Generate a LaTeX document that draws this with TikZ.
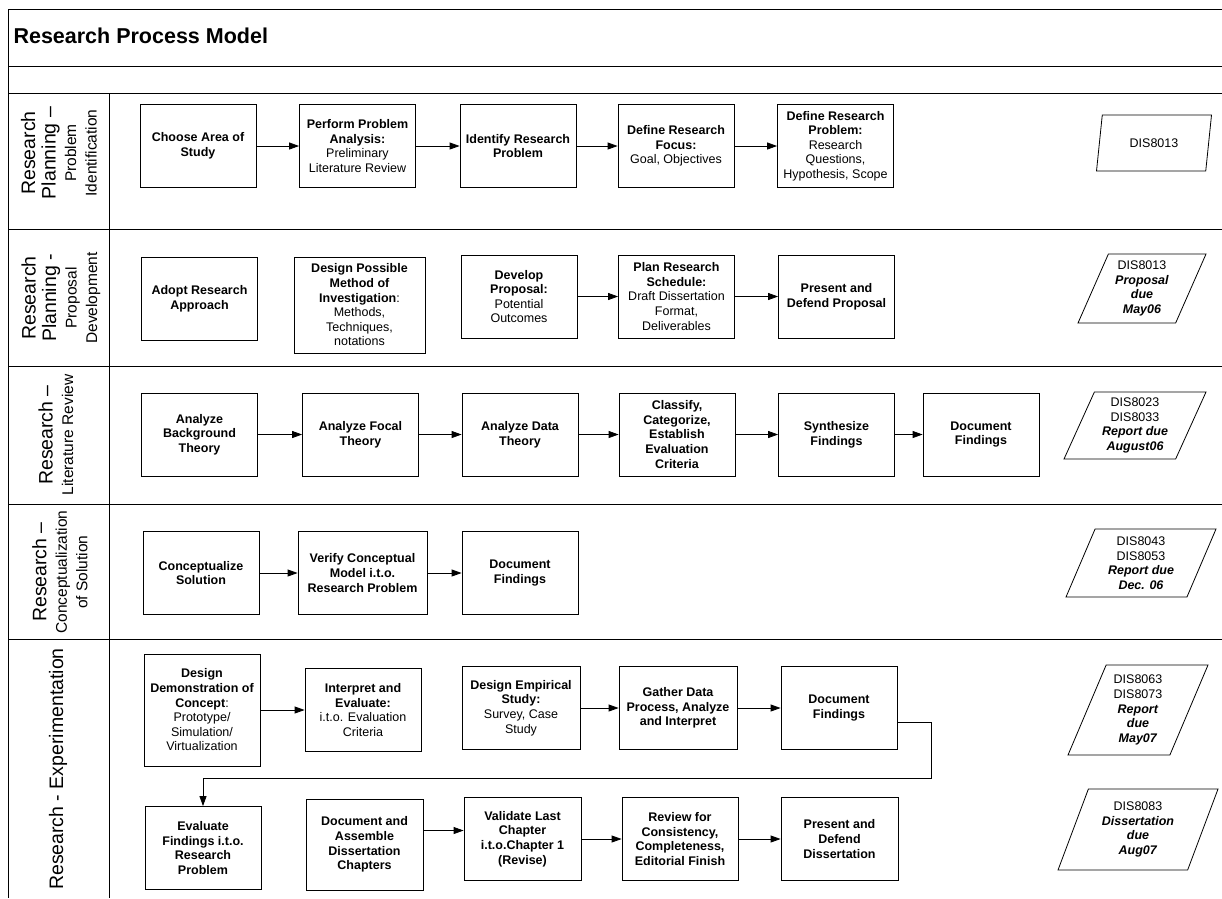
\documentclass[tikz,border=0pt]{standalone}
\usepackage{fontspec}
\setmainfont{Liberation Sans}
\usetikzlibrary{arrows.meta,shapes.geometric}
\newcommand{\lanebig}{\fontsize{19.5}{20.5}\selectfont}
\newcommand{\lanesmall}{\fontsize{15.5}{20.5}\selectfont}
\newcommand{\due}[1]{\textbf{\textit{#1}}}

\begin{document}
\begin{tikzpicture}[x=1pt,y=-1pt]
\tikzset{boxstyle/.style={draw,line width=0.8pt,align=center,inner sep=2pt,minimum width=116pt,minimum height=83pt,font=\fontsize{12.5}{14.6}\selectfont\bfseries}};
\tikzset{duestyle/.style={draw,line width=0.8pt,align=center,trapezium,trapezium left angle=62,trapezium right angle=118,trapezium stretches body,inner sep=1pt,font=\fontsize{12.5}{14.6}\selectfont}};
\tikzset{lanestyle/.style={rotate=90,align=center,font=\lanesmall}};
\tikzset{arrowstyle/.style={-{Triangle[length=10pt,width=7pt]},line width=0.8pt}};
\tikzset{frameline/.style={line width=1pt}};
\useasboundingbox (0,0) rectangle (1222,898);

% frame
\draw[frameline] (8,9) -- (1222,9);
\draw[frameline] (8,66) -- (1222,66);
\draw[frameline] (8,93) -- (1222,93);
\draw[frameline] (8,229) -- (1222,229);
\draw[frameline] (8,366) -- (1222,366);
\draw[frameline] (8,504) -- (1222,504);
\draw[frameline] (8,639) -- (1222,639);
\draw[frameline] (8,9) -- (8,898);
\draw[frameline] (109,93) -- (109,898);

\node[anchor=west,font=\fontsize{21.5}{24}\selectfont\bfseries] (modelTitle) at (10,36) {Research Process Model};

% lane labels
\node[lanestyle] (laneOne) at (59,153) {\lanebig Research\\\lanebig Planning --\\Problem\\Identification};
\node[lanestyle] (laneTwo) at (61,298) {\lanebig Research\\\lanebig Planning -\\Proposal\\Development};
\node[lanestyle] (laneThree) at (56,435) {\lanebig Research --\\Literature Review};
\node[lanestyle] (laneFour) at (60,572) {\lanebig Research --\\Conceptualization\\of Solution};
\node[lanestyle] (laneFive) at (58,769) {\lanebig Research - Experimentation};

% problem identification
\node[boxstyle] (chooseArea) at (198,146) {Choose Area of\\Study};
\node[boxstyle] (performAnalysis) at (357.5,146) {Perform Problem\\Analysis:\\\textmd{Preliminary}\\\textmd{Literature Review}};
\node[boxstyle] (identifyProblem) at (518,146) {Identify Research\\Problem};
\node[boxstyle] (defineFocus) at (676,146) {Define Research\\Focus:\\\textmd{Goal, Objectives}};
\node[boxstyle] (defineProblem) at (835.5,146) {Define Research\\Problem:\\\textmd{Research}\\\textmd{Questions,}\\\textmd{Hypothesis, Scope}};
\node[duestyle,minimum width=115pt,minimum height=56pt] (dueOne) at (1154,143) {DIS8013};

% proposal development
\node[boxstyle] (adoptApproach) at (199.5,299) {Adopt Research\\Approach};
\node[boxstyle,minimum width=131pt,minimum height=96pt] (designMethod) at (359.5,305) {Design Possible\\Method of\\Investigation\textmd{:}\\\textmd{Methods,}\\\textmd{Techniques,}\\\textmd{notations}};
\node[boxstyle] (developProposal) at (519,296.5) {Develop\\Proposal:\\\textmd{Potential}\\\textmd{Outcomes}};
\node[boxstyle] (planSchedule) at (676.5,296.5) {Plan Research\\Schedule:\\\textmd{Draft Dissertation}\\\textmd{Format,}\\\textmd{Deliverables}};
\node[boxstyle] (presentProposal) at (836.5,296.5) {Present and\\Defend Proposal};
\node[duestyle,minimum width=128pt,minimum height=69pt] (dueTwo) at (1142,288.5) {DIS8013\\\due{Proposal}\\\due{due}\\\due{May06}};

% literature review
\node[boxstyle] (backgroundTheory) at (199.5,434.5) {Analyze\\Background\\Theory};
\node[boxstyle] (focalTheory) at (360.5,434.5) {Analyze Focal\\Theory};
\node[boxstyle] (dataTheory) at (520,434.5) {Analyze Data\\Theory};
\node[boxstyle] (classifyCriteria) at (677,434.5) {Classify,\\Categorize,\\Establish\\Evaluation\\Criteria};
\node[boxstyle] (synthesizeFindings) at (836.5,434.5) {Synthesize\\Findings};
\node[boxstyle] (documentReview) at (981,434.5) {Document\\Findings};
\node[duestyle,minimum width=142pt,minimum height=67pt] (dueThree) at (1135,425.5) {DIS8023\\DIS8033\\\due{Report due}\\\due{August06}};

% conceptualization
\node[boxstyle] (conceptualizeSolution) at (201,573) {Conceptualize\\Solution};
\node[boxstyle,minimum width=129pt] (verifyModel) at (362.5,573) {Verify Conceptual\\Model i.t.o.\\Research Problem};
\node[boxstyle] (documentSolution) at (520,573) {Document\\Findings};
\node[duestyle,minimum width=150pt,minimum height=68pt] (dueFour) at (1141,563) {DIS8043\\DIS8053\\\due{Report due}\\\due{Dec. 06}};

% experimentation
\node[boxstyle,minimum height=112pt] (designDemo) at (202,710) {Design\\Demonstration of\\Concept\textmd{:}\\\textmd{Prototype/}\\\textmd{Simulation/}\\\textmd{Virtualization}};
\node[boxstyle] (interpretResults) at (363,710) {Interpret and\\Evaluate:\\\textmd{i.t.o. Evaluation}\\\textmd{Criteria}};
\node[boxstyle,minimum width=118pt] (designStudy) at (521,708) {Design Empirical\\Study:\\\textmd{Survey, Case}\\\textmd{Study}};
\node[boxstyle,minimum width=118pt] (gatherData) at (678,708) {Gather Data\\Process, Analyze\\and Interpret};
\node[boxstyle] (documentExperiment) at (839,708) {Document\\Findings};
\node[duestyle,minimum width=140pt,minimum height=90pt] (dueFive) at (1138,710) {DIS8063\\DIS8073\\\due{Report}\\\due{due}\\\due{May07}};

\node[boxstyle] (evaluateFindings) at (203,848) {Evaluate\\Findings i.t.o.\\Research\\Problem};
\node[boxstyle,minimum width=117pt,minimum height=91pt] (assembleChapters) at (364.5,844.5) {Document and\\Assemble\\Dissertation\\Chapters};
\node[boxstyle,minimum width=117pt] (validateChapter) at (522.5,839) {Validate Last\\Chapter\\i.t.o.Chapter 1\\(Revise)};
\node[boxstyle] (reviewConsistency) at (680,839) {Review for\\Consistency,\\Completeness,\\Editorial Finish};
\node[boxstyle,minimum width=117pt] (presentDissertation) at (839.5,839) {Present and\\Defend\\Dissertation};
\node[duestyle,minimum width=160pt,minimum height=81pt] (dueSix) at (1138,829.5) {DIS8083\\\due{Dissertation}\\\due{due}\\\due{Aug07}};

\path (chooseArea) edge [arrowstyle] (performAnalysis);
\path (performAnalysis) edge [arrowstyle] (identifyProblem);
\path (identifyProblem) edge [arrowstyle] (defineFocus);
\path (defineFocus) edge [arrowstyle] (defineProblem);

\path (developProposal) edge [arrowstyle] (planSchedule);
\path (planSchedule) edge [arrowstyle] (presentProposal);

\path (backgroundTheory) edge [arrowstyle] (focalTheory);
\path (focalTheory) edge [arrowstyle] (dataTheory);
\path (dataTheory) edge [arrowstyle] (classifyCriteria);
\path (classifyCriteria) edge [arrowstyle] (synthesizeFindings);
\path (synthesizeFindings) edge [arrowstyle] (documentReview);

\path (conceptualizeSolution) edge [arrowstyle] (verifyModel);
\path (verifyModel) edge [arrowstyle] (documentSolution);

\path (designDemo) edge [arrowstyle] (interpretResults);
\path (designStudy) edge [arrowstyle] (gatherData);
\path (gatherData) edge [arrowstyle] (documentExperiment);

\coordinate (loopCorner) at (931,778);
\draw[arrowstyle] ([yshift=-14pt]documentExperiment.east) -| (loopCorner) -| (evaluateFindings.north);

\coordinate (assembleOut) at ([yshift=14pt]assembleChapters.east);
\path (assembleOut) edge [arrowstyle] (assembleOut -| validateChapter.west);
\path (validateChapter) edge [arrowstyle] (reviewConsistency);
\path (reviewConsistency) edge [arrowstyle] (presentDissertation);
\end{tikzpicture}
\end{document}
